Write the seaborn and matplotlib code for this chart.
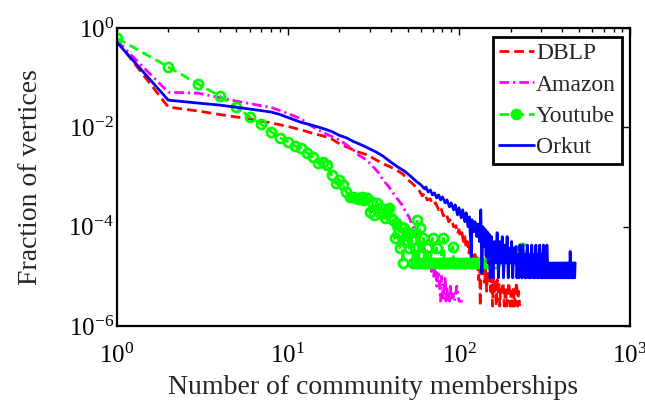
import numpy as np
import seaborn as sb
import matplotlib.pyplot as plt
from matplotlib.ticker import LogLocator, NullLocator, NullFormatter

# number of community memberships vs log10(fraction of vertices)
dblp_x = [1, 2, 3, 4, 6, 8, 10, 12, 14, 16, 18, 20, 23, 26, 29, 33, 37, 40, 44, 47,
          50, 53, 56, 58, 61, 63, 65, 68, 70, 73, 76, 78, 81, 84, 87, 90, 93, 96, 98, 100,
          102, 104, 106, 108, 110, 112, 114, 116, 118, 120, 122, 124, 126, 128, 130, 132, 133, 135, 137, 139,
          141, 143, 145, 147, 149, 151, 153, 155, 157, 159, 161, 163, 165, 167, 169, 171, 173, 175, 178, 181,
          184, 187, 190, 193, 196, 199, 202, 205, 208, 211, 214, 217, 220, 223, 226]
dblp_logy = [-0.25, -1.59, -1.67, -1.74, -1.83, -1.91, -1.98, -2.05, -2.12, -2.17,
             -2.23, -2.33, -2.42, -2.50, -2.55, -2.66, -2.75, -2.80, -2.88, -2.94,
             -3.05, -3.12, -3.20, -3.25, -3.38, -3.32, -3.46, -3.44, -3.56, -3.52,
             -3.66, -3.60, -3.78, -3.72, -3.90, -3.84, -4.00, -3.98, -4.14, -4.06,
             -4.20, -4.12, -4.30, -4.20, -4.43, -4.30, -4.53, -4.40, -4.65, -4.50,
             -4.73, -4.56, -4.80, -4.60, -5.07, -4.65, -5.60, -4.73, -4.95, -4.80,
             -5.12, -4.85, -5.30, -4.90, -5.12, -4.95, -5.30, -5.00, -5.60, -5.00,
             -5.30, -5.12, -5.60, -5.07, -5.30, -5.12, -5.60, -5.20, -5.30, -5.12,
             -5.60, -5.20, -5.60, -5.30, -5.12, -5.60, -5.30, -5.60, -5.20, -5.60,
             -5.30, -5.12, -5.60, -5.30, -5.60]

amazon_x = [1, 2, 3, 4, 5, 6, 8, 9, 10, 12, 13, 15, 17, 20, 22, 24, 26, 29, 32, 34,
            36, 39, 42, 45, 47, 49, 51, 53, 55, 57, 58, 59, 60, 61, 62, 63, 64, 65, 66, 67,
            68, 69, 70, 71, 72, 73, 74, 75, 76, 77, 78, 79, 80, 81, 82, 83, 84, 85, 86, 87,
            88, 89, 90, 92, 94, 97, 100, 105]
amazon_logy = [-0.25, -1.29, -1.31, -1.40, -1.47, -1.52, -1.60, -1.66, -1.72, -1.83,
               -1.92, -2.05, -2.14, -2.25, -2.35, -2.45, -2.56, -2.66, -2.82, -2.92,
               -3.06, -3.20, -3.36, -3.50, -3.58, -3.72, -3.80, -3.95, -4.05, -4.20,
               -4.10, -4.27, -4.40, -4.53, -4.35, -4.50, -4.70, -4.60, -4.45, -4.80,
               -4.70, -4.90, -4.80, -5.00, -4.87, -4.75, -5.20, -5.00, -4.90, -5.20,
               -5.50, -5.00, -5.20, -5.50, -5.20, -5.00, -5.50, -5.20, -5.50, -5.35,
               -5.50, -5.20, -5.50, -5.35, -5.50, -5.20, -5.50, -5.50]

youtube_x = [1, 2, 3, 4, 5, 6, 7, 8, 9, 10, 11, 12, 13, 14, 15, 16, 17, 18, 19, 20,
             21, 22, 23, 24, 25, 26, 27, 28, 29, 30, 31, 32, 33, 34, 35, 36, 37, 38, 39, 40,
             41, 42, 43, 44, 45, 46, 47, 48, 49, 50, 51, 52, 53, 54, 55, 56, 57, 58, 59, 60,
             62, 63, 65, 66, 68, 70, 71, 74, 75, 78, 81, 82, 85, 88, 92, 93, 96, 100, 104, 108,
             112, 116, 120, 125, 130, 135, 140, 145, 162, 233]
youtube_logy = [-0.20, -0.78, -1.13, -1.37, -1.59, -1.79, -1.94, -2.09, -2.21, -2.29,
                -2.37, -2.41, -2.52, -2.60, -2.72, -2.70, -2.76, -2.96, -3.12, -3.06,
                -3.16, -3.30, -3.40, -3.40, -3.42, -3.44, -3.40, -3.46, -3.42, -3.70,
                -3.50, -3.76, -3.52, -3.70, -3.62, -3.72, -3.83, -3.66, -3.62, -3.82,
                -3.86, -4.23, -3.92, -4.12, -4.43, -4.00, -4.73, -4.03, -4.27, -4.13,
                -4.43, -4.12, -4.27, -4.73, -4.43, -4.73, -3.86, -4.73, -4.03, -4.73,
                -4.23, -4.73, -4.43, -4.73, -4.73, -4.23, -4.73, -4.43, -4.73, -4.73,
                -4.23, -4.73, -4.73, -4.73, -4.40, -4.73, -4.73, -4.73, -4.73, -4.73,
                -4.73, -4.73, -4.73, -4.73, -4.73, -4.73, -4.73, -4.73, -4.73, -4.43]

orkut_x = [1, 2, 3, 4, 6, 8, 9, 10, 12, 14, 16, 18, 20, 22, 24, 26, 28, 30, 33, 36,
           40, 44, 48, 52, 56, 60, 63, 64, 66, 68, 70, 72, 74, 76, 78, 80, 83, 85, 88, 90,
           93, 95, 98, 100, 103, 105, 108, 110, 113, 115, 118, 119, 122, 124, 127, 129, 132, 134, 136, 138,
           140, 142, 144, 146, 148, 150, 152, 155, 158, 161, 164, 167, 170, 173, 176, 179, 182, 185, 188, 191,
           194, 197, 200, 203, 206, 209, 212, 215, 218, 221, 224, 227, 230, 233, 236, 239, 242, 245, 248, 251,
           254, 257, 260, 263, 266, 269, 272, 275, 278, 281, 284, 287, 290, 293, 296, 299, 302, 305, 308, 311,
           314, 317, 320, 323, 326, 329, 332, 336, 340, 344, 348, 352, 356, 360, 364, 368, 372, 376, 380, 384,
           388, 392, 396, 400, 404, 408, 412, 416, 420, 424, 428, 432, 436, 440, 444, 446, 450, 454, 458, 462,
           466, 470, 474, 477]
orkut_logy = [-0.28, -1.45, -1.51, -1.55, -1.63, -1.69, -1.74, -1.80, -1.90, -1.96,
              -2.02, -2.08, -2.16, -2.21, -2.28, -2.33, -2.38, -2.43, -2.50, -2.58,
              -2.70, -2.80, -2.88, -2.98, -3.08, -3.16, -3.24, -3.20, -3.30, -3.26,
              -3.36, -3.32, -3.42, -3.36, -3.46, -3.40, -3.52, -3.46, -3.60, -3.52,
              -3.66, -3.56, -3.76, -3.62, -3.82, -3.66, -3.90, -3.72, -4.00, -3.80,
              -4.60, -3.86, -4.10, -3.90, -4.20, -3.95, -4.30, -3.66, -4.93, -4.00,
              -4.40, -4.05, -4.60, -4.10, -4.73, -4.15, -5.03, -4.20, -5.03, -4.30,
              -4.73, -4.12, -5.03, -4.30, -4.73, -4.20, -5.03, -4.37, -4.73, -4.20,
              -5.03, -4.43, -4.73, -4.30, -5.03, -4.43, -4.73, -4.40, -5.03, -4.56,
              -5.03, -4.37, -4.73, -5.03, -4.37, -4.73, -5.03, -4.56, -5.03, -4.37,
              -4.73, -5.03, -4.56, -5.03, -4.37, -4.73, -5.03, -4.56, -5.03, -4.37,
              -4.73, -5.03, -4.56, -5.03, -4.37, -4.73, -5.03, -4.56, -5.03, -4.37,
              -4.73, -5.03, -4.56, -5.03, -4.37, -4.73, -5.03, -4.73, -5.03, -4.73,
              -5.03, -4.73, -5.03, -4.73, -5.03, -4.73, -5.03, -4.73, -5.03, -4.73,
              -5.03, -4.73, -5.03, -4.73, -5.03, -4.73, -5.03, -4.73, -5.03, -4.73,
              -5.03, -4.73, -5.03, -4.73, -5.03, -4.50, -5.03, -4.73, -5.03, -4.73,
              -5.03, -4.73, -5.03, -4.73]

sb.set_style("white")
plt.rcParams["font.family"] = ["Liberation Serif", "DejaVu Serif"]
plt.rcParams["mathtext.fontset"] = "stix"

fig = plt.figure(figsize=(6.45, 4.08), dpi=100)
ax = fig.add_axes([0.181, 0.201, 0.796, 0.730])

series = [
    ("DBLP", dblp_x, dblp_logy, "#ff0000", (0, (3.5, 1.8)), {}),
    ("Amazon", amazon_x, amazon_logy, "#ff00ff", (0, (3.5, 1.4, 0.8, 1.4)), {}),
    ("Youtube", youtube_x, youtube_logy, "#00ff00", (0, (3.5, 1.8)),
     dict(marker="o", markersize=6.5, markerfacecolor="none",
          markeredgecolor="#00ff00", markeredgewidth=2)),
    ("Orkut", orkut_x, orkut_logy, "#0000ff", "-", {}),
]
for name, xs, logy, color, ls, mk in series:
    sb.lineplot(x=xs, y=np.power(10.0, logy), ax=ax, color=color, linestyle=ls,
                lw=2, label=name, estimator=None, sort=False, **mk)

ax.set_xscale("log")
ax.set_yscale("log")
ax.set_xlim(1, 1000)
ax.set_ylim(1e-6, 1)
ax.set_yticks([1e-6, 1e-4, 1e-2, 1])
ax.yaxis.set_minor_locator(NullLocator())
ax.xaxis.set_major_locator(LogLocator(base=10))
ax.xaxis.set_minor_locator(LogLocator(base=10, subs=np.arange(2, 10)))
ax.xaxis.set_minor_formatter(NullFormatter())
ax.tick_params(which="both", direction="in", top=True, right=True, labelsize=18,
               color="black", labelcolor="black")
ax.tick_params(which="major", length=5, width=1)
ax.tick_params(which="minor", length=3, width=1)
ax.tick_params(axis="x", which="major", pad=13)
ax.tick_params(axis="y", which="major", pad=2)
for sp in ax.spines.values():
    sp.set_linewidth(1.6)
    sp.set_color("black")

ax.set_xlabel("Number of community memberships", fontsize=20, labelpad=5)
ax.set_ylabel("Fraction of vertices", fontsize=20, labelpad=18)

leg = ax.legend(loc="upper right", fontsize=17, frameon=True, fancybox=False,
                edgecolor="black", framealpha=1, handlelength=1.45, handletextpad=0.1,
                borderpad=0.25, labelspacing=0.42, borderaxespad=0.36)
leg.get_frame().set_linewidth(2)
leg.get_lines()[2].set_markerfacecolor("#00ff00")

plt.savefig("out.png", dpi=100)
